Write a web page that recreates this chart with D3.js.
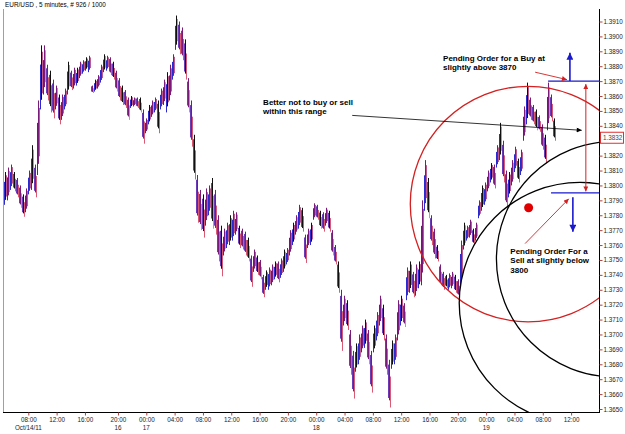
<!DOCTYPE html>
<html>
<head>
<meta charset="utf-8">
<script src="https://cdnjs.cloudflare.com/ajax/libs/d3/7.8.5/d3.min.js"></script>
<style>
body { margin: 0; background: #fff; }
svg { display: block; font-family: "Liberation Sans", Arial, sans-serif; }
</style>
</head>
<body>
<svg id="chart" width="625" height="434"></svg>
<script>
// EUR/USD M5 chart with hand drawn pending-order notes
const chartTitle = "EUR/USD , 5 minutes, # 926 / 1000";

// chart is thinned: one plotted bar every BAR_STEP five-minute bars
const BAR_STEP = 5.085;
const highs = [
  1.3809, 1.3812, 1.3814, 1.3809, 1.3805, 1.3800, 1.3794, 1.3798, 1.3810, 1.3827,
  1.3814, 1.3857, 1.3894, 1.3894, 1.3881, 1.3877, 1.3871, 1.3867, 1.3861, 1.3861,
  1.3865, 1.3883, 1.3877, 1.3879, 1.3879, 1.3883, 1.3884, 1.3886, 1.3887, 1.3867,
  1.3871, 1.3874, 1.3881, 1.3888, 1.3887, 1.3886, 1.3883, 1.3877, 1.3872, 1.3867,
  1.3864, 1.3859, 1.3860, 1.3859, 1.3859, 1.3859, 1.3851, 1.3845, 1.3854, 1.3857,
  1.3859, 1.3857, 1.3865, 1.3871, 1.3876, 1.3881, 1.3888, 1.3914, 1.3910, 1.3906,
  1.3898, 1.3872, 1.3857, 1.3834, 1.3807, 1.3797, 1.3794, 1.3798, 1.3800, 1.3805,
  1.3797, 1.3780, 1.3773, 1.3771, 1.3775, 1.3780, 1.3783, 1.3782, 1.3773, 1.3771,
  1.3769, 1.3765, 1.3753, 1.3757, 1.3753, 1.3750, 1.3740, 1.3743, 1.3745, 1.3747,
  1.3749, 1.3749, 1.3751, 1.3757, 1.3758, 1.3770, 1.3775, 1.3780, 1.3787, 1.3785,
  1.3767, 1.3771, 1.3775, 1.3788, 1.3787, 1.3783, 1.3782, 1.3785, 1.3783, 1.3770,
  1.3760, 1.3749, 1.3730, 1.3726, 1.3723, 1.3703, 1.3689, 1.3694, 1.3700, 1.3706,
  1.3710, 1.3703, 1.3689, 1.3706, 1.3715, 1.3726, 1.3720, 1.3700, 1.3683, 1.3696,
  1.3700, 1.3723, 1.3726, 1.3721, 1.3745, 1.3749, 1.3742, 1.3747, 1.3749, 1.3790,
  1.3817, 1.3805, 1.3780, 1.3771, 1.3760, 1.3747, 1.3742, 1.3740, 1.3741, 1.3742,
  1.3740, 1.3737, 1.3763, 1.3775, 1.3773, 1.3777, 1.3771, 1.3775, 1.3790, 1.3800,
  1.3802, 1.3810, 1.3815, 1.3814, 1.3827, 1.3842, 1.3830, 1.3810, 1.3809, 1.3817,
  1.3826, 1.3818, 1.3824, 1.3853, 1.3869, 1.3859, 1.3854, 1.3851, 1.3847, 1.3841,
  1.3834, 1.3869, 1.3861, 1.3845
];
const lows = [
  1.3787, 1.3790, 1.3797, 1.3796, 1.3792, 1.3785, 1.3779, 1.3782, 1.3794, 1.3797,
  1.3792, 1.3807, 1.3851, 1.3861, 1.3857, 1.3849, 1.3845, 1.3851, 1.3841, 1.3844,
  1.3851, 1.3861, 1.3864, 1.3865, 1.3867, 1.3872, 1.3875, 1.3877, 1.3876, 1.3862,
  1.3863, 1.3865, 1.3869, 1.3876, 1.3877, 1.3874, 1.3871, 1.3863, 1.3857, 1.3854,
  1.3852, 1.3844, 1.3852, 1.3853, 1.3852, 1.3849, 1.3828, 1.3835, 1.3841, 1.3846,
  1.3849, 1.3835, 1.3851, 1.3854, 1.3849, 1.3857, 1.3871, 1.3891, 1.3888, 1.3884,
  1.3871, 1.3849, 1.3826, 1.3804, 1.3775, 1.3770, 1.3765, 1.3773, 1.3780, 1.3771,
  1.3767, 1.3749, 1.3739, 1.3753, 1.3758, 1.3760, 1.3763, 1.3767, 1.3758, 1.3757,
  1.3753, 1.3749, 1.3732, 1.3742, 1.3740, 1.3737, 1.3725, 1.3730, 1.3730, 1.3733,
  1.3737, 1.3735, 1.3738, 1.3742, 1.3747, 1.3753, 1.3760, 1.3767, 1.3771, 1.3769,
  1.3748, 1.3758, 1.3760, 1.3777, 1.3777, 1.3771, 1.3769, 1.3773, 1.3769, 1.3753,
  1.3747, 1.3728, 1.3689, 1.3706, 1.3703, 1.3673, 1.3657, 1.3675, 1.3680, 1.3688,
  1.3691, 1.3680, 1.3661, 1.3688, 1.3696, 1.3706, 1.3696, 1.3673, 1.3651, 1.3677,
  1.3680, 1.3696, 1.3706, 1.3705, 1.3723, 1.3728, 1.3725, 1.3726, 1.3731, 1.3733,
  1.3783, 1.3778, 1.3760, 1.3751, 1.3749, 1.3733, 1.3730, 1.3731, 1.3730, 1.3731,
  1.3728, 1.3725, 1.3733, 1.3757, 1.3763, 1.3765, 1.3760, 1.3763, 1.3778, 1.3783,
  1.3787, 1.3796, 1.3802, 1.3798, 1.3812, 1.3817, 1.3802, 1.3785, 1.3792, 1.3800,
  1.3809, 1.3802, 1.3807, 1.3830, 1.3841, 1.3844, 1.3841, 1.3837, 1.3836, 1.3824,
  1.3815, 1.3837, 1.3843, 1.3830
];
const lastPrice = 1.3832;

// axes
const priceTicks = [
  1.3650, 1.3660, 1.3670, 1.3680, 1.3690, 1.3700, 1.3710, 1.3720, 1.3730,
  1.3740, 1.3750, 1.3760, 1.3770, 1.3780, 1.3790, 1.3800, 1.3810, 1.3820,
  1.3830, 1.3840, 1.3850, 1.3860, 1.3870, 1.3880, 1.3890, 1.3900, 1.3910
];
const timeTicks = [40, 88, 136, 192, 240, 288, 336, 384, 432, 480, 528, 576, 624, 672, 720, 768, 816, 864, 912, 960];
const timeLabels = ["08:00", "12:00", "16:00", "20:00", "00:00", "04:00", "08:00", "12:00", "16:00", "20:00",
                    "00:00", "04:00", "08:00", "12:00", "16:00", "20:00", "00:00", "04:00", "08:00", "12:00"];
const dayLabels = ["Oct/14/11", "", "", "16", "17", "", "", "", "", "", "18", "", "", "", "", "", "19", "", "", ""];

// drawn objects (bar index, price)
const circles = [
  { bar: 887, price: 1.37875, rad: 0.0079, color: "#d42020" },
  { bar: 1033, price: 1.37506, rad: 0.0079, color: "#000" },
  { bar: 975, price: 1.37211, rad: 0.0081, color: "#000" }
];
const dot = { bar: 888, price: 1.3785 };
const orderLines = [
  { from: 921, to: 1012, price: 1.3870 },
  { from: 926, to: 1012, price: 1.3795 }
];
const blueArrows = [
  { bar: 958, from: 1.3870, to: 1.3889 },
  { bar: 963, from: 1.3792, to: 1.3769 }
];
const redArrows = [
  { b1: 899, p1: 1.3876, b2: 953, p2: 1.3871 },
  { b1: 882, p1: 1.3761, b2: 956, p2: 1.3791 }
];
const rangeArrow = { bar: 985, top: 1.3868, bottom: 1.3796 };
const rangeLine = { b1: 589, p1: 1.3847, b2: 978, p2: 1.3837 };
const notes = [
  { bar: 438, price: 1.3854, lines: ["Better not to buy or sell", "within this range"] },
  { bar: 743, price: 1.38835, lines: ["Pending Order for a Buy at", "slightly above 3870"] },
  { bar: 857, price: 1.37543, lines: ["Pending Order For a", "Sell at slightly below", "3800"] }
];

const W = 625, H = 434;
const plot = { left: 4, right: 599, top: 9, bottom: 412 };

const svg = d3.select("#chart");
const x = d3.scaleLinear().domain([0, 1000]).range([4.7, 594.7]);
const y = d3.scaleLinear().domain([1.3650, 1.3910]).range([409, 21.5]);

// backgrounds and frame
svg.append("rect").attr("width", W).attr("height", H).attr("fill", "#fff");
svg.append("line")
    .attr("x1", plot.left - 0.5).attr("x2", plot.left - 0.5)
    .attr("y1", plot.top).attr("y2", plot.bottom)
    .attr("stroke", "#a0a0a0");

const defs = svg.append("defs");
defs.append("clipPath").attr("id", "clip")
  .append("rect")
    .attr("x", plot.left).attr("y", plot.top)
    .attr("width", plot.right - plot.left).attr("height", plot.bottom - plot.top);

function marker(id, color, w, h) {
    defs.append("marker")
        .attr("id", id)
        .attr("viewBox", "0 0 10 10")
        .attr("refX", 10).attr("refY", 5)
        .attr("markerUnits", "userSpaceOnUse")
        .attr("markerWidth", w).attr("markerHeight", h)
        .attr("orient", "auto-start-reverse")
      .append("path")
        .attr("d", "M0,0 L10,5 L0,10 z")
        .attr("fill", color);
}
marker("headBlue", "#1a1acc", 8, 7);
marker("headRed", "#d42020", 6, 5);
marker("headBlack", "#000", 7, 5);

// price bars: several overlapping 5-minute bars blend into blue / red / black strands
const bars = highs.map((h, i) => ({ i, bar: i * BAR_STEP, high: h, low: lows[i] }));
const gBars = svg.append("g").attr("clip-path", "url(#clip)");

bars.forEach((d, i) => {
    const prev = i > 0 ? bars[i - 1] : d;
    const up = (d.high + d.low) >= (prev.high + prev.low);
    const cx = Math.round(x(d.bar)) + 0.5;
    const yh = y(d.high), yl = y(d.low);
    const span = yl - yh;
    gBars.append("line")
        .attr("x1", cx - 1).attr("x2", cx - 1)
        .attr("y1", yh + span * (up ? 0.3 : 0.1)).attr("y2", yl - span * (up ? 0 : 0.2))
        .attr("stroke", up ? "#2a2ad0" : "#6a3ab8").attr("stroke-width", 1);
    gBars.append("line")
        .attr("x1", cx).attr("x2", cx)
        .attr("y1", yh).attr("y2", yl - span * 0.15)
        .attr("stroke", i % 3 === 0 ? "#101010" : "#7a1a7a").attr("stroke-width", 1);
    gBars.append("line")
        .attr("x1", cx + 1).attr("x2", cx + 1)
        .attr("y1", yh + span * (up ? 0.1 : 0.35)).attr("y2", yl - span * (up ? 0.25 : 0))
        .attr("stroke", i % 4 === 1 ? "#8a8a8a" : (up ? "#b03070" : "#d03050")).attr("stroke-width", 0.8);
});

// drawn objects
const gObj = svg.append("g").attr("clip-path", "url(#clip)");

gObj.selectAll("circle.ring")
  .data(circles)
  .join("circle")
    .attr("class", "ring")
    .attr("cx", d => x(d.bar))
    .attr("cy", d => y(d.price))
    .attr("r", d => y(d.price) - y(d.price + d.rad))
    .attr("fill", "none")
    .attr("stroke", d => d.color)
    .attr("stroke-width", 1.3);

gObj.append("circle")
    .attr("cx", x(dot.bar)).attr("cy", y(dot.price)).attr("r", 4.5)
    .attr("fill", "#e00000");

gObj.selectAll("line.order")
  .data(orderLines)
  .join("line")
    .attr("class", "order")
    .attr("x1", d => x(d.from)).attr("x2", d => x(d.to))
    .attr("y1", d => y(d.price)).attr("y2", d => y(d.price))
    .attr("stroke", "#1a1acc").attr("stroke-width", 1.2);

gObj.selectAll("line.barrow")
  .data(blueArrows)
  .join("line")
    .attr("class", "barrow")
    .attr("x1", d => x(d.bar)).attr("x2", d => x(d.bar))
    .attr("y1", d => y(d.from)).attr("y2", d => y(d.to))
    .attr("stroke", "#1a1acc").attr("stroke-width", 1.6)
    .attr("marker-end", "url(#headBlue)");

gObj.selectAll("line.rarrow")
  .data(redArrows)
  .join("line")
    .attr("class", "rarrow")
    .attr("x1", d => x(d.b1)).attr("y1", d => y(d.p1))
    .attr("x2", d => x(d.b2)).attr("y2", d => y(d.p2))
    .attr("stroke", "#d42020").attr("stroke-width", 0.9)
    .attr("marker-end", "url(#headRed)");

gObj.append("line")
    .attr("x1", x(rangeArrow.bar)).attr("x2", x(rangeArrow.bar))
    .attr("y1", y(rangeArrow.top)).attr("y2", y(rangeArrow.bottom))
    .attr("stroke", "#d42020").attr("stroke-width", 1)
    .attr("marker-start", "url(#headRed)")
    .attr("marker-end", "url(#headRed)");

gObj.append("line")
    .attr("x1", x(rangeLine.b1)).attr("y1", y(rangeLine.p1))
    .attr("x2", x(rangeLine.b2)).attr("y2", y(rangeLine.p2))
    .attr("stroke", "#000").attr("stroke-width", 0.8)
    .attr("marker-end", "url(#headBlack)");

// notes
notes.forEach(n => {
    const t = svg.append("text")
        .attr("x", x(n.bar)).attr("y", y(n.price))
        .attr("font-size", 8).attr("font-weight", "bold").attr("fill", "#000");
    n.lines.forEach((s, k) => {
        t.append("tspan").attr("x", x(n.bar)).attr("dy", k === 0 ? 0 : 9.5).text(s);
    });
});

// title
svg.append("text")
    .attr("x", 5).attr("y", 7)
    .attr("font-size", 6.4).attr("fill", "#000")
    .text(chartTitle);

// price axis (the level under the last-price box is hidden, as in the terminal)
const hiddenTick = Math.round(lastPrice * 1000) / 1000;
const yAxis = svg.append("g")
    .attr("transform", `translate(${plot.right + 0.5},0)`)
    .call(d3.axisRight(y).tickValues(priceTicks).tickSize(3).tickPadding(1)
        .tickFormat(d => Math.abs(d - hiddenTick) < 1e-6 ? "" : d3.format(".4f")(d)));
yAxis.select(".domain").attr("d", `M0,${plot.top}V${plot.bottom}`).attr("stroke", "#000");
yAxis.selectAll(".tick line").attr("stroke", "#b04040");
yAxis.selectAll(".tick text").attr("font-size", 6.3).attr("fill", "#222")
    .attr("font-family", "Liberation Sans, Arial, sans-serif");

// last price label
const lp = svg.append("g").attr("transform", `translate(${plot.right + 1},${y(lastPrice)})`);
lp.append("rect").attr("x", 0.5).attr("y", -5.5).attr("width", 23).attr("height", 11)
    .attr("fill", "#fff").attr("stroke", "#e03030");
lp.append("text").attr("x", 3).attr("y", 2.3).attr("font-size", 6.3).attr("fill", "#444")
    .text(d3.format(".4f")(lastPrice));

// time axis
const xAxis = svg.append("g")
    .attr("transform", `translate(0,${plot.bottom + 0.5})`)
    .call(d3.axisBottom(x).tickValues(timeTicks).tickSize(3).tickPadding(2)
        .tickFormat((d, i) => timeLabels[i]));
xAxis.select(".domain").attr("d", `M${plot.left - 1},0H${plot.right + 1}`).attr("stroke", "#000");
xAxis.selectAll(".tick line").attr("stroke", "#b04040");
xAxis.selectAll(".tick text").attr("font-size", 6.3).attr("fill", "#222")
    .attr("font-family", "Liberation Sans, Arial, sans-serif");

svg.append("g")
  .selectAll("text")
  .data(timeTicks.filter((d, i) => dayLabels[i]))
  .join("text")
    .attr("x", d => x(d))
    .attr("y", plot.bottom + 17.5)
    .attr("text-anchor", "middle")
    .attr("font-size", 6.3).attr("fill", "#222")
    .text(d => dayLabels[timeTicks.indexOf(d)]);
</script>
</body>
</html>
